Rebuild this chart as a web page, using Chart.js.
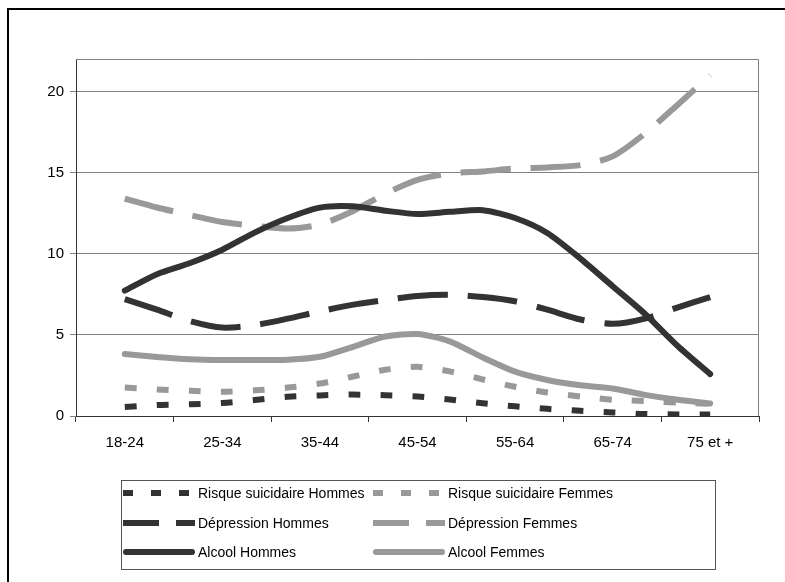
<!DOCTYPE html>
<html>
<head>
<meta charset="utf-8">
<script src="https://cdn.jsdelivr.net/npm/chart.js@4.4.1/dist/chart.umd.min.js"></script>
<style>
  html, body { margin: 0; padding: 0; background: #fff; overflow: hidden; }
  #wrap { position: relative; width: 785px; height: 582px; }
  #frame { position: absolute; left: 7px; top: 8px; width: 800px; height: 620px; border: 2px solid #000; box-sizing: border-box; pointer-events: none; }
  canvas { position: absolute; left: 0; top: 0; }
</style>
</head>
<body>
<div id="wrap">
  <canvas id="chart" width="785" height="582"></canvas>
  <div id="frame"></div>
</div>
<script>
/* santé mentale par âge — lignes lissées façon Excel */

const ageGroups = ['18-24', '25-34', '35-44', '45-54', '55-64', '65-74', '75 et +'];
// reading positions along the age axis, in category units (0 = 18-24 ... 6 = 75 et +)
const agePos = [0, 0.33, 0.67, 1, 1.33, 1.67, 2, 2.33, 2.67, 3, 3.33, 3.67, 4, 4.33, 4.67, 5, 5.33, 5.67, 6];

const suicideMen   = [0.55, 0.68, 0.72, 0.8, 0.98, 1.18, 1.27, 1.32, 1.28, 1.2, 1.02, 0.78, 0.6, 0.44, 0.32, 0.22, 0.12, 0.1, 0.1];
const suicideWomen = [1.75, 1.64, 1.55, 1.5, 1.58, 1.75, 2.0, 2.42, 2.85, 3.03, 2.75, 2.25, 1.8, 1.45, 1.2, 1.0, 0.92, 0.83, 0.75];
const deprMen      = [7.2, 6.55, 5.85, 5.45, 5.6, 6.0, 6.45, 6.85, 7.15, 7.4, 7.47, 7.33, 7.07, 6.55, 5.95, 5.68, 6.0, 6.7, 7.33];
const deprWomen    = [13.4, 12.85, 12.38, 11.95, 11.72, 11.55, 11.8, 12.6, 13.7, 14.55, 14.95, 15.07, 15.25, 15.32, 15.46, 16.0, 17.4, 19.2, 21.0];
const alcMen       = [7.73, 8.74, 9.43, 10.25, 11.3, 12.2, 12.84, 12.92, 12.65, 12.45, 12.58, 12.68, 12.2, 11.28, 9.7, 8.0, 6.3, 4.3, 2.58];
const alcWomen     = [3.82, 3.64, 3.5, 3.45, 3.45, 3.47, 3.65, 4.25, 4.9, 5.05, 4.6, 3.6, 2.73, 2.22, 1.89, 1.7, 1.3, 1.0, 0.77];

const yTicks = { min: 0, max: 22, step: 5 };

const DARK = '#333333', LIGHT = '#999999';
const FONT = '"Liberation Sans", Arial, sans-serif';

const series = [
  { label: 'Risque suicidaire Hommes', values: suicideMen,   color: DARK,  dash: [12, 20], legendDash: [10, 18] },
  { label: 'Risque suicidaire Femmes', values: suicideWomen, color: LIGHT, dash: [12, 20], legendDash: [10, 18] },
  { label: 'Dépression Hommes',        values: deprMen,      color: DARK,  dash: [50, 20], legendDash: [36, 17] },
  { label: 'Dépression Femmes',        values: deprWomen,    color: LIGHT, dash: [50, 20], legendDash: [36, 17] },
  { label: 'Alcool Hommes',            values: alcMen,       color: DARK,  dash: [],       legendDash: [] },
  { label: 'Alcool Femmes',            values: alcWomen,     color: LIGHT, dash: [],       legendDash: [] },
];

const datasets = series.map((s, i) => ({
  label: s.label,
  data: agePos.map((x, k) => ({ x, y: s.values[k] })),
  borderColor: s.color,
  backgroundColor: s.color,
  borderWidth: 6,
  borderDash: s.dash,
  legendDash: s.legendDash,
  borderCapStyle: s.dash.length ? 'butt' : 'round',
  borderJoinStyle: 'round',
  pointRadius: 0,
  tension: 0.25,
  fill: false,
  order: series.length - i,
}));

// top + right edge of the plot box (left/bottom are the axes)
const plotBox = {
  id: 'plotBox',
  beforeDatasetsDraw(chart) {
    const { ctx, chartArea: a } = chart;
    ctx.save();
    ctx.strokeStyle = '#808080';
    ctx.lineWidth = 1;
    ctx.beginPath();
    ctx.moveTo(a.left, a.top + 0.5);
    ctx.lineTo(a.right - 0.5, a.top + 0.5);
    ctx.lineTo(a.right - 0.5, a.bottom);
    ctx.stroke();
    ctx.restore();
  }
};

// Excel-like boxed legend, 2 columns x 3 rows
const boxLegend = {
  id: 'boxLegend',
  afterDraw(chart) {
    const { ctx } = chart;
    const box = { x: 121.5, y: 480.5, w: 594, h: 89 };
    const cols = [123, 373], rows = [493, 523, 552], symW = 72;
    ctx.save();
    ctx.strokeStyle = '#555';
    ctx.lineWidth = 1;
    ctx.strokeRect(box.x, box.y, box.w, box.h);
    chart.data.datasets.forEach((ds, i) => {
      const x = cols[i % 2], y = rows[Math.floor(i / 2)];
      ctx.beginPath();
      ctx.strokeStyle = ds.borderColor;
      ctx.lineWidth = ds.borderWidth;
      ctx.lineCap = ds.borderCapStyle;
      ctx.setLineDash(ds.legendDash);
      const inset = ds.borderCapStyle === 'round' ? 3 : 0;
      ctx.moveTo(x + inset, y);
      ctx.lineTo(x + symW - inset, y);
      ctx.stroke();
      ctx.setLineDash([]);
      ctx.fillStyle = '#000';
      ctx.font = '14px ' + FONT;
      ctx.textBaseline = 'middle';
      ctx.textAlign = 'left';
      ctx.fillText(ds.label, x + symW + 3, y + 1);
    });
    ctx.restore();
  }
};

new Chart(document.getElementById('chart'), {
  type: 'line',
  data: { datasets },
  plugins: [plotBox, boxLegend],
  options: {
    responsive: false,
    animation: false,
    devicePixelRatio: 1,
    layout: { padding: { left: 0, top: 59, right: 26, bottom: 126 } },
    plugins: { legend: { display: false }, tooltip: { enabled: false } },
    scales: {
      x: {
        type: 'linear',
        min: -0.5,
        max: 6.5,
        afterBuildTicks: (s) => { s.ticks = ageGroups.map((_, i) => ({ value: i })); },
        afterFit: (s) => { s.height = 40; },
        ticks: {
          autoSkip: false,
          maxRotation: 0,
          padding: 12,
          color: '#000',
          font: { family: FONT, size: 15 },
          callback: (v) => ageGroups[v],
        },
        grid: { offset: true, drawOnChartArea: false, drawTicks: true, tickLength: 6, color: '#333' },
        border: { color: '#333', width: 1 },
      },
      y: {
        min: yTicks.min,
        max: yTicks.max,
        afterFit: (s) => { s.width = 76; },
        ticks: {
          stepSize: yTicks.step,
          includeBounds: false,
          padding: 6,
          color: '#000',
          font: { family: FONT, size: 15 },
        },
        grid: { color: '#808080', lineWidth: 1, tickLength: 6 },
        border: { color: '#333', width: 1 },
      },
    },
  },
});
</script>
</body>
</html>
